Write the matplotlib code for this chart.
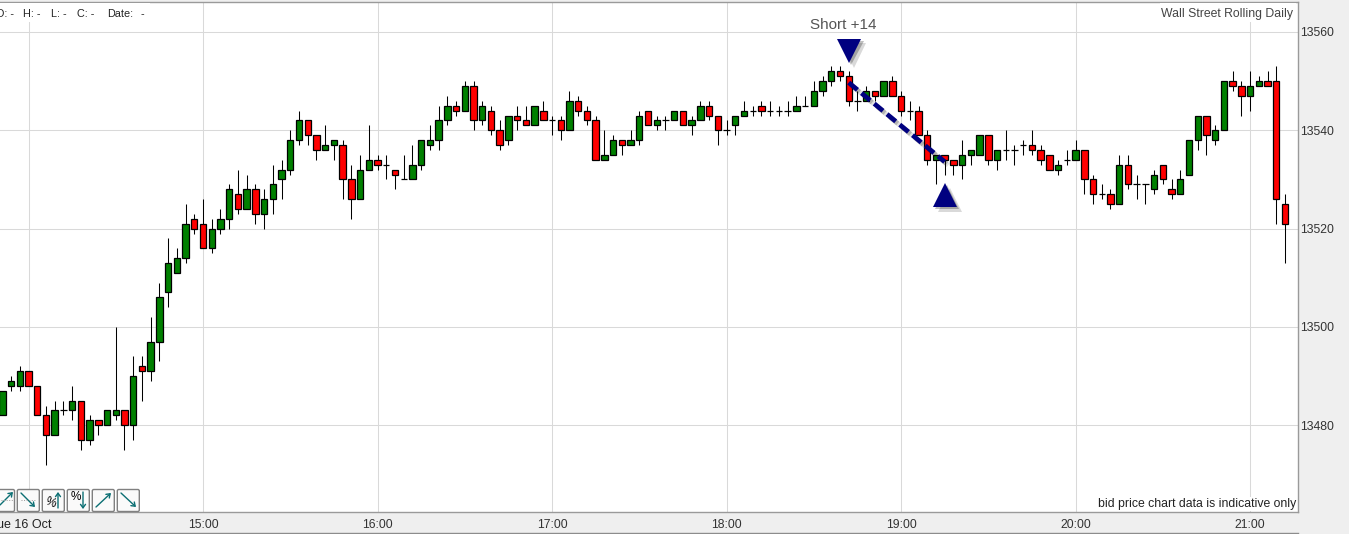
import matplotlib
matplotlib.use("Agg")
import numpy as np
import matplotlib.pyplot as plt
import matplotlib.patheffects as pe
from matplotlib.patches import FancyBboxPatch, Rectangle

plt.rcParams['font.family'] = ['Liberation Sans', 'DejaVu Sans']

# 3 minute candles, first one starts at 13:51 (minutes since midnight)
first_candle = 831
candle_step = 3

opens = [13482, 13488, 13488, 13491, 13488, 13482, 13478, 13483, 13483, 13485,
         13477, 13481, 13480, 13482, 13483, 13480, 13492, 13491, 13497, 13507,
         13511, 13514, 13522, 13521, 13516, 13520, 13522, 13527, 13524, 13528,
         13523, 13526, 13530, 13532, 13538, 13542, 13539, 13536, 13537, 13537,
         13530, 13526, 13532, 13534, 13533, 13532, 13530, 13530, 13533, 13537,
         13538, 13542, 13545, 13544, 13549, 13542, 13544, 13540, 13538, 13543,
         13542, 13541, 13544, 13542, 13542, 13540, 13546, 13544, 13542, 13534,
         13535, 13538, 13537, 13538, 13544, 13541, 13542, 13542, 13544, 13541,
         13542, 13545, 13543, 13540, 13541, 13543, 13544, 13545, 13544, 13544,
         13544, 13544, 13545, 13545, 13548, 13550, 13552, 13551, 13546, 13546,
         13548, 13547, 13550, 13547, 13544, 13544, 13539, 13534, 13535, 13534,
         13533, 13535, 13535, 13539, 13534, 13536, 13536, 13537, 13537, 13536,
         13535, 13532, 13534, 13534, 13536, 13530, 13527, 13527, 13525, 13533,
         13529, 13529, 13528, 13533, 13528, 13527, 13531, 13538, 13543, 13538,
         13540, 13550, 13549, 13547, 13549, 13550, 13550, 13525]
highs = [13487, 13490, 13492, 13491, 13488, 13484, 13485, 13485, 13488, 13485,
         13482, 13481, 13483, 13500, 13483, 13494, 13494, 13502, 13509, 13518,
         13516, 13525, 13523, 13526, 13522, 13524, 13529, 13532, 13531, 13529,
         13528, 13533, 13534, 13540, 13544, 13542, 13539, 13541, 13538, 13538,
         13533, 13535, 13541, 13535, 13535, 13532, 13535, 13537, 13538, 13541,
         13545, 13547, 13546, 13550, 13550, 13546, 13545, 13542, 13543, 13545,
         13545, 13545, 13546, 13543, 13543, 13548, 13547, 13545, 13543, 13540,
         13539, 13538, 13540, 13544, 13544, 13543, 13543, 13544, 13544, 13543,
         13546, 13546, 13543, 13542, 13543, 13546, 13545, 13546, 13546, 13545,
         13546, 13547, 13547, 13550, 13551, 13553, 13553, 13552, 13548, 13549,
         13548, 13550, 13551, 13548, 13546, 13545, 13540, 13535, 13535, 13534,
         13538, 13536, 13539, 13539, 13536, 13540, 13537, 13538, 13540, 13537,
         13535, 13534, 13536, 13538, 13536, 13531, 13529, 13528, 13535, 13535,
         13531, 13529, 13532, 13533, 13530, 13532, 13538, 13543, 13543, 13541,
         13550, 13552, 13550, 13552, 13551, 13552, 13553, 13527]
lows = [13482, 13487, 13487, 13488, 13482, 13472, 13478, 13482, 13481, 13475,
        13476, 13478, 13480, 13481, 13475, 13477, 13485, 13489, 13493, 13504,
        13511, 13513, 13519, 13516, 13515, 13519, 13520, 13523, 13524, 13521,
        13520, 13523, 13526, 13531, 13537, 13537, 13534, 13536, 13534, 13526,
        13522, 13526, 13532, 13532, 13530, 13528, 13530, 13530, 13532, 13536,
        13536, 13541, 13543, 13544, 13540, 13541, 13539, 13536, 13537, 13540,
        13541, 13541, 13542, 13539, 13538, 13540, 13543, 13541, 13534, 13534,
        13535, 13535, 13537, 13537, 13541, 13540, 13540, 13542, 13541, 13539,
        13542, 13542, 13537, 13539, 13539, 13543, 13543, 13543, 13543, 13543,
        13543, 13544, 13545, 13545, 13547, 13549, 13550, 13545, 13544, 13546,
        13546, 13547, 13547, 13543, 13542, 13539, 13533, 13529, 13531, 13531,
        13530, 13533, 13535, 13533, 13532, 13534, 13533, 13535, 13535, 13533,
        13532, 13531, 13533, 13534, 13527, 13525, 13526, 13524, 13525, 13528,
        13526, 13525, 13527, 13529, 13526, 13527, 13531, 13536, 13535, 13537,
        13540, 13548, 13543, 13544, 13549, 13549, 13521, 13513]
closes = [13487, 13489, 13491, 13488, 13482, 13478, 13483, 13483, 13485, 13477,
          13481, 13480, 13483, 13483, 13480, 13490, 13491, 13497, 13506, 13513,
          13514, 13521, 13520, 13516, 13520, 13522, 13528, 13524, 13528, 13523,
          13526, 13529, 13532, 13538, 13542, 13539, 13536, 13537, 13538, 13530,
          13526, 13532, 13534, 13533, 13533, 13531, 13530, 13533, 13538, 13538,
          13542, 13545, 13544, 13549, 13542, 13545, 13540, 13537, 13543, 13542,
          13541, 13545, 13542, 13542, 13540, 13546, 13544, 13542, 13534, 13535,
          13538, 13537, 13538, 13543, 13541, 13542, 13542, 13544, 13541, 13542,
          13545, 13543, 13540, 13540, 13543, 13544, 13544, 13544, 13544, 13544,
          13544, 13545, 13545, 13548, 13550, 13552, 13551, 13546, 13546, 13548,
          13547, 13550, 13547, 13544, 13544, 13539, 13534, 13535, 13534, 13533,
          13535, 13536, 13539, 13534, 13536, 13536, 13536, 13537, 13536, 13534,
          13532, 13533, 13534, 13536, 13530, 13527, 13527, 13525, 13533, 13529,
          13529, 13529, 13531, 13530, 13527, 13530, 13538, 13543, 13539, 13540,
          13550, 13549, 13547, 13549, 13550, 13549, 13526, 13521]

price_ticks = [13480, 13500, 13520, 13540, 13560]
hour_ticks = [840, 900, 960, 1020, 1080, 1140, 1200, 1260]
hour_labels = ['', '15:00', '16:00', '17:00', '18:00', '19:00', '20:00', '21:00']

# the short trade, times in minutes since midnight
trade_times = [1122, 1155]
trade_prices = [13549.7, 13533.6]
entry_arrow = (1122, 13556.2)
exit_arrow = (1155, 13526.9)

GRID = '#d9d9d9'
BORDER = '#9a9a9a'
PANEL = '#efefef'
NAVY = '#000080'

W, H = 1349, 534
fig = plt.figure(figsize=(W / 100, H / 100), dpi=100, facecolor=PANEL)
ax = fig.add_axes([0, 1 - 512 / H, 1297.5 / W, (512 - 1.5) / H])
ax.set_facecolor('white')
ax.set_xlim(830.2, 1276.3)
ax.set_ylim(13462.34, 13566.2)

ax.set_xticks(hour_ticks)
ax.set_xticklabels(hour_labels, fontsize=8.8, color='#333333')
ax.set_yticks(price_ticks)
ax.yaxis.tick_right()
ax.tick_params(axis='y', length=0, pad=2, labelsize=8.8, labelcolor='#333333')
ax.tick_params(axis='x', length=0, pad=5)
ax.grid(True, color=GRID, lw=0.75)
ax.set_axisbelow(True)
for side, spine in ax.spines.items():
    spine.set_color(BORDER)
    spine.set_linewidth(1)
ax.spines['left'].set_visible(False)

times = first_candle + candle_step * np.arange(len(opens))
o = np.array(opens)
c = np.array(closes)
colours = ['#008000' if b >= a else '#ff0000' for a, b in zip(opens, closes)]

ax.vlines(times, lows, highs, color='black', lw=0.75, zorder=3)
ax.bar(times, c - o, bottom=o, width=2.2, color=colours, edgecolor='black',
       linewidth=0.9, zorder=4)

# trade marker line and arrows, shadows are soft in the original so stack two
shadow = [pe.SimpleLineShadow(offset=(1.5, -1.5), shadow_color='black', alpha=0.2),
          pe.SimpleLineShadow(offset=(2.5, -2.5), shadow_color='black', alpha=0.12),
          pe.Normal()]
ax.plot(trade_times, trade_prices, color=NAVY, lw=3.4, dashes=(2.4, 1.1), zorder=5,
        path_effects=shadow)
tri_shadow = [pe.SimplePatchShadow(offset=(3.5, -3.5), shadow_rgbFace='black', alpha=0.15),
              pe.SimplePatchShadow(offset=(2, -2), shadow_rgbFace='black', alpha=0.25),
              pe.Normal()]
ax.plot(*entry_arrow, marker='v', ms=17.3, color=NAVY, mew=0, zorder=6, path_effects=tri_shadow)
ax.plot(*exit_arrow, marker='^', ms=17.3, color=NAVY, mew=0, zorder=6, path_effects=tri_shadow)

# overlay in screen pixels for the furniture around the chart
over = fig.add_axes([0, 0, 1, 1], facecolor='none')
over.set_xlim(0, W)
over.set_ylim(H, 0)
over.axis('off')

# white patches behind the labels, they hide the grid like in the original
over.add_patch(Rectangle((0, 2.5), 150, 19, fc='white', ec='none', zorder=1))
over.add_patch(Rectangle((1160, 2.5), 136, 19, fc='white', ec='none', zorder=1))
over.add_patch(Rectangle((1100, 497), 196, 14, fc='white', ec='none', zorder=1))

header = [(14, 'O: -', 'right'), (23, 'H: -', 'left'), (51, 'L: -', 'left'),
          (77, 'C: -', 'left'), (107, 'Date:', 'left'), (141, '-', 'left')]
for x, label, align in header:
    over.text(x, 14, label, fontsize=7.8, color='#222222', ha=align, va='center', zorder=2)

over.text(1293, 14, 'Wall Street Rolling Daily', fontsize=8.8, color='#444444',
          ha='right', va='center', zorder=2)
over.text(1296, 504.5, 'bid price chart data is indicative only', fontsize=8.8,
          color='#222222', ha='right', va='center', zorder=2)
over.text(843, 25, 'Short +14', fontsize=11, color='#555555', ha='center', va='center')
over.text(52, 524.5, 'Tue 16 Oct', fontsize=9, color='#222222', ha='right', va='center')

# bottom strip edge
over.plot([0, 1298], [532.7, 532.7], color='#8c8c8c', lw=1)

# toolbar buttons
button_lefts = [-7.5, 17.3, 42.3, 67.3, 92.3, 117.3]
for left in button_lefts:
    over.add_patch(FancyBboxPatch((left, 489.5), 22, 22, boxstyle='round,pad=0,rounding_size=1.5',
                                  fc='#fafafa', ec='#808080', lw=1, zorder=3))

TEAL = '#0b6f73'
def arrow(x0, y0, x1, y1):
    over.annotate('', xy=(x1, y1), xytext=(x0, y0), zorder=4,
                  arrowprops=dict(arrowstyle='->,head_length=0.25,head_width=0.18', color=TEAL,
                                  lw=1, shrinkA=0, shrinkB=0))

arrow(0, 505, 13, 492)
over.plot([1, 13], [500, 500], color='#999999', lw=0.7, ls=':', zorder=4)
arrow(21, 493, 35, 507)
over.plot([21, 36], [500, 500], color='#999999', lw=0.7, ls=':', zorder=4)
arrow(58, 508, 58, 492)
over.text(51, 503, '%', fontsize=8.5, color='black', rotation=-20, ha='center', va='center', zorder=4)
arrow(83, 492, 83, 509)
over.text(76, 497, '%', fontsize=8.5, color='black', ha='center', va='center', zorder=4)
arrow(96, 507, 111, 493)
arrow(121, 493, 136, 507)

fig.savefig('out.png', dpi=100, facecolor=fig.get_facecolor())
